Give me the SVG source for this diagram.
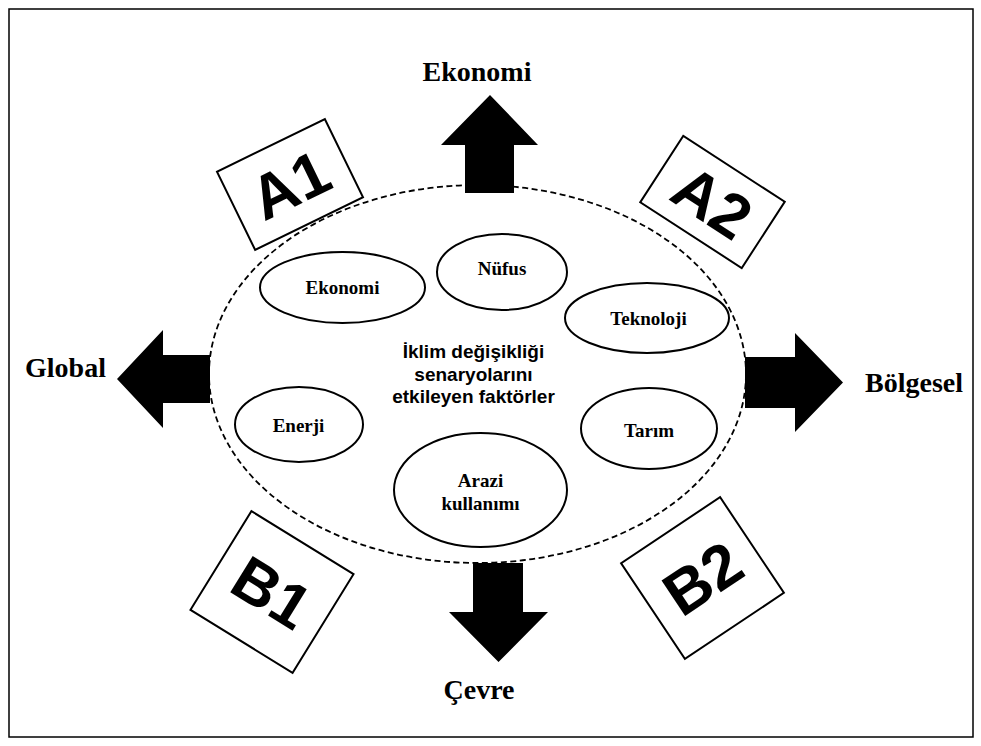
<svg xmlns="http://www.w3.org/2000/svg" width="981" height="746" viewBox="0 0 981 746">
<style>
.frame{fill:#fff;stroke:#000;stroke-width:1.5}
.dash{fill:none;stroke:#000;stroke-width:1.8;stroke-dasharray:6,3.5}
.ell{fill:#fff;stroke:#000;stroke-width:2}
.box{fill:#fff;stroke:#000;stroke-width:2}
.arr{fill:#000;stroke:none}
.lbl{font-family:"Liberation Serif","Times New Roman",serif;font-weight:bold;font-size:28px;fill:#000}
.elbl{font-family:"Liberation Serif","Times New Roman",serif;font-weight:bold;font-size:19px;fill:#000;text-anchor:middle}
.ctr{font-family:"Liberation Sans",Arial,sans-serif;font-weight:bold;font-size:19px;fill:#000;text-anchor:middle}
.big{font-family:"Liberation Sans",Arial,sans-serif;font-weight:bold;font-size:62px;fill:#000;text-anchor:middle}
</style>
<rect class="frame" x="9" y="9" width="964" height="728"/>
<g id="scenario-ellipse">
<ellipse class="dash" cx="477.5" cy="374" rx="268.5" ry="189"/>
<text class="ctr" x="473.5" y="358">İklim değişikliği</text>
<text class="ctr" x="473.5" y="380.5">senaryolarını</text>
<text class="ctr" x="473.5" y="403">etkileyen faktörler</text>
</g>
<g id="connectors">
<polygon id="arrow-up" class="arr" points="465,193 465,145 441,145 490,95 538,145 514,145 514,193"/>
<polygon id="arrow-left" class="arr" points="210,355 163,355 163,330 117,379 163,428 163,403 210,403"/>
<polygon id="arrow-right" class="arr" points="745,357 795,357 795,333 843,382.5 795,432 795,408 745,408"/>
<polygon id="arrow-down" class="arr" points="473,563 473,612 449,612 498.5,662 548,612 523,612 523,563"/>
</g>
<g id="label-ekonomi-top"><text class="lbl" x="477" y="81" text-anchor="middle">Ekonomi</text></g>
<g id="label-global"><text class="lbl" x="25" y="377">Global</text></g>
<g id="label-bolgesel"><text class="lbl" x="865" y="392">Bölgesel</text></g>
<g id="label-cevre"><text class="lbl" x="479" y="699" text-anchor="middle">Çevre</text></g>
<g id="node-ekonomi"><ellipse class="ell" cx="342.5" cy="287.5" rx="82.5" ry="35.5"/><text class="elbl" x="342.5" y="294">Ekonomi</text></g>
<g id="node-nufus"><ellipse class="ell" cx="502" cy="272" rx="65" ry="38"/><text class="elbl" x="502" y="275">Nüfus</text></g>
<g id="node-teknoloji"><ellipse class="ell" cx="647" cy="318" rx="82" ry="35"/><text class="elbl" x="648.5" y="325">Teknoloji</text></g>
<g id="node-enerji"><ellipse class="ell" cx="299" cy="424.5" rx="64" ry="37.5"/><text class="elbl" x="298.5" y="432">Enerji</text></g>
<g id="node-tarim"><ellipse class="ell" cx="649" cy="428.5" rx="68" ry="40.5"/><text class="elbl" x="649" y="437">Tarım</text></g>
<g id="node-arazi"><ellipse class="ell" cx="480.5" cy="490" rx="86.5" ry="57"/><text class="elbl" x="480.5" y="487">Arazi</text><text class="elbl" x="480.5" y="510">kullanımı</text></g>
<g id="box-a1" transform="translate(290,184.5) rotate(-26)"><rect class="box" x="-60" y="-43.5" width="120" height="87"/><text class="big" x="0" y="22">A1</text></g>
<g id="box-a2" transform="translate(712.5,202) rotate(33)"><rect class="box" x="-60.5" y="-39.5" width="121" height="79"/><text class="big" x="0" y="22">A2</text></g>
<g id="box-b1" transform="translate(272,592) rotate(31.7)"><rect class="box" x="-60" y="-58" width="120" height="116"/><text class="big" x="0" y="22">B1</text></g>
<g id="box-b2" transform="translate(702.5,578) rotate(-33.7)"><rect class="box" x="-59.5" y="-57.5" width="119" height="115"/><text class="big" x="0" y="22">B2</text></g>
</svg>
